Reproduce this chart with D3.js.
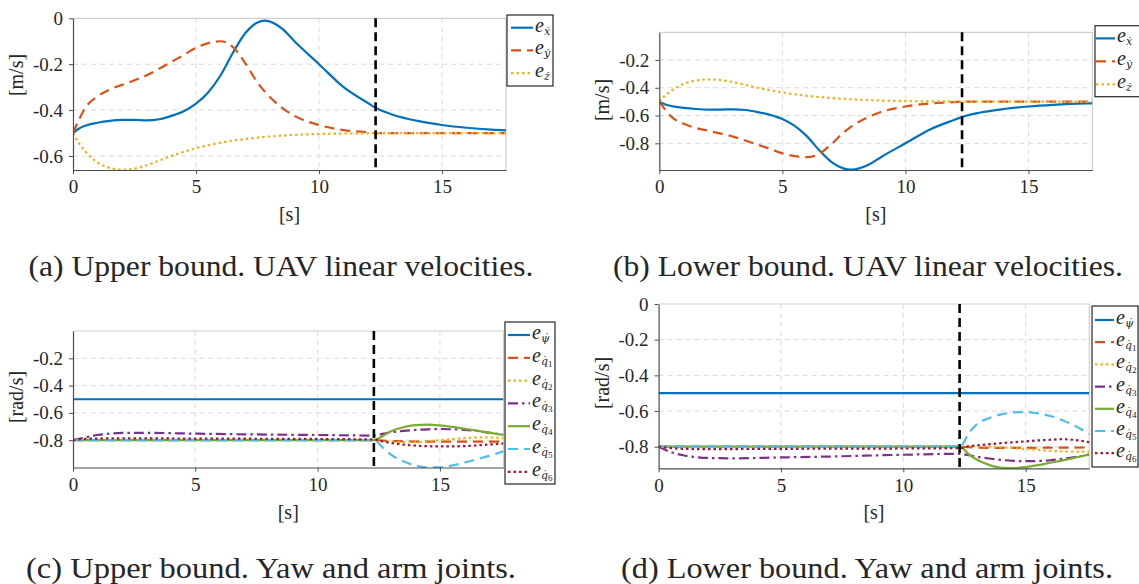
<!DOCTYPE html>
<html>
<head>
<meta charset="utf-8">
<script src="https://cdn.jsdelivr.net/npm/d3@7"></script>
<style>
body { margin: 0; background: #fff; }
text { font-family: "Liberation Serif", "DejaVu Serif", serif; fill: #262626; }
</style>
</head>
<body>
<svg id="canvas" width="1139" height="584"></svg>
<script>
// ---- data ----
var xTicks = [0, 5, 10, 15];
var xMax = 17.6;
var switchTime = 12.3;   // vertical dashed marker

// time samples for top row (UAV linear velocities)
var tTop = [0, 0.25, 0.5, 1, 1.5, 2, 2.5, 3, 3.5, 4, 4.5, 5, 5.5, 6, 6.5, 7, 7.5, 7.8, 8.5, 9, 10, 11, 12, 12.3, 13, 14, 15, 16, 17, 17.6];

// (a) upper bound
var exUp = [-0.5, -0.48, -0.468, -0.455, -0.447, -0.443, -0.443, -0.445, -0.44, -0.425, -0.405, -0.372, -0.322, -0.248, -0.15, -0.065, -0.018, -0.01, -0.045, -0.1, -0.2, -0.3, -0.37, -0.39, -0.42, -0.447, -0.465, -0.477, -0.485, -0.488];
var eyUp = [-0.5, -0.44, -0.39, -0.34, -0.31, -0.29, -0.27, -0.248, -0.22, -0.19, -0.16, -0.128, -0.108, -0.1, -0.125, -0.195, -0.28, -0.32, -0.39, -0.425, -0.465, -0.487, -0.497, -0.5, -0.5, -0.5, -0.5, -0.5, -0.5, -0.5];
var ezUp = [-0.5, -0.545, -0.58, -0.628, -0.652, -0.66, -0.655, -0.64, -0.62, -0.6, -0.582, -0.566, -0.553, -0.542, -0.533, -0.526, -0.52, -0.517, -0.511, -0.508, -0.504, -0.502, -0.501, -0.5, -0.5, -0.5, -0.5, -0.5, -0.5, -0.5];

// (b) lower bound
var exLow = [-0.5, -0.52, -0.532, -0.545, -0.553, -0.557, -0.557, -0.555, -0.56, -0.575, -0.595, -0.625, -0.675, -0.75, -0.85, -0.935, -0.982, -0.99, -0.955, -0.9, -0.8, -0.7, -0.63, -0.61, -0.58, -0.553, -0.535, -0.523, -0.515, -0.512];
var eyLow = [-0.5, -0.56, -0.61, -0.66, -0.69, -0.71, -0.73, -0.752, -0.78, -0.81, -0.84, -0.872, -0.892, -0.9, -0.875, -0.805, -0.72, -0.68, -0.61, -0.575, -0.535, -0.513, -0.503, -0.5, -0.5, -0.5, -0.5, -0.5, -0.5, -0.5];
var ezLow = [-0.5, -0.455, -0.42, -0.372, -0.348, -0.34, -0.345, -0.36, -0.38, -0.4, -0.418, -0.434, -0.447, -0.458, -0.467, -0.474, -0.48, -0.483, -0.489, -0.492, -0.496, -0.498, -0.499, -0.5, -0.5, -0.5, -0.5, -0.5, -0.5, -0.5];

// time samples for bottom row (yaw and arm joints)
var tBot = [0, 0.5, 1, 1.5, 2, 3, 5, 7, 10, 12.3, 12.7, 13, 13.5, 14, 14.5, 15, 15.5, 16, 16.5, 17, 17.6];

// (c) upper bound
var psiUp = [-0.5, -0.5, -0.5, -0.5, -0.5, -0.5, -0.5, -0.5, -0.5, -0.5, -0.5, -0.5, -0.5, -0.5, -0.5, -0.5, -0.5, -0.5, -0.5, -0.5, -0.5];
var q1Up = [-0.8, -0.8, -0.8, -0.8, -0.8, -0.8, -0.8, -0.8, -0.8, -0.8, -0.803, -0.806, -0.808, -0.81, -0.81, -0.81, -0.81, -0.81, -0.81, -0.81, -0.81];
var q2Up = [-0.8, -0.8, -0.8, -0.8, -0.8, -0.8, -0.8, -0.8, -0.8, -0.8, -0.808, -0.812, -0.815, -0.815, -0.808, -0.8, -0.792, -0.785, -0.78, -0.78, -0.785];
var q3Up = [-0.8, -0.78, -0.762, -0.752, -0.747, -0.746, -0.752, -0.757, -0.762, -0.766, -0.752, -0.742, -0.732, -0.725, -0.72, -0.718, -0.72, -0.724, -0.732, -0.745, -0.76];
var q4Up = [-0.8, -0.8, -0.8, -0.8, -0.8, -0.8, -0.8, -0.8, -0.8, -0.8, -0.765, -0.735, -0.705, -0.69, -0.686, -0.692, -0.703, -0.716, -0.73, -0.745, -0.762];
var q5Up = [-0.8, -0.8, -0.8, -0.8, -0.8, -0.8, -0.8, -0.8, -0.8, -0.8, -0.86, -0.905, -0.955, -0.985, -1.0, -0.998, -0.985, -0.965, -0.94, -0.915, -0.882];
var q6Up = [-0.8, -0.79, -0.788, -0.787, -0.787, -0.787, -0.788, -0.789, -0.791, -0.795, -0.81, -0.82, -0.832, -0.84, -0.844, -0.845, -0.845, -0.843, -0.838, -0.832, -0.824];

// (d) lower bound
var psiLow = [-0.5, -0.5, -0.5, -0.5, -0.5, -0.5, -0.5, -0.5, -0.5, -0.5, -0.5, -0.5, -0.5, -0.5, -0.5, -0.5, -0.5, -0.5, -0.5, -0.5, -0.5];
var q1Low = [-0.8, -0.8, -0.8, -0.8, -0.8, -0.8, -0.8, -0.8, -0.8, -0.8, -0.803, -0.805, -0.806, -0.806, -0.806, -0.806, -0.806, -0.805, -0.805, -0.805, -0.804];
var q2Low = [-0.8, -0.8, -0.8, -0.8, -0.8, -0.8, -0.8, -0.8, -0.8, -0.8, -0.797, -0.797, -0.8, -0.803, -0.808, -0.813, -0.818, -0.823, -0.826, -0.828, -0.828];
var q3Low = [-0.8, -0.83, -0.848, -0.858, -0.863, -0.865, -0.86, -0.855, -0.845, -0.84, -0.848, -0.856, -0.866, -0.874, -0.879, -0.881, -0.88, -0.876, -0.868, -0.858, -0.845];
var q4Low = [-0.8, -0.8, -0.8, -0.8, -0.8, -0.8, -0.8, -0.8, -0.8, -0.8, -0.845, -0.872, -0.902, -0.918, -0.92, -0.914, -0.903, -0.89, -0.877, -0.862, -0.843];
var q5Low = [-0.8, -0.8, -0.8, -0.8, -0.8, -0.8, -0.8, -0.8, -0.8, -0.8, -0.72, -0.675, -0.64, -0.619, -0.608, -0.606, -0.613, -0.628, -0.652, -0.683, -0.728];
var q6Low = [-0.8, -0.808, -0.812, -0.813, -0.813, -0.813, -0.812, -0.811, -0.81, -0.808, -0.797, -0.792, -0.786, -0.78, -0.775, -0.77, -0.765, -0.761, -0.758, -0.762, -0.775];

// tick labels and names
var yTicksA = [0, -0.2, -0.4, -0.6];
var yTicksB = [-0.2, -0.4, -0.6, -0.8];
var yTicksC = [-0.2, -0.4, -0.6, -0.8];
var yTicksD = [0, -0.2, -0.4, -0.6, -0.8];
var velNames = [["x\u0307", ""], ["y\u0307", ""], ["z\u0307", ""]];
var jointNames = [["\u03C8\u0307", ""], ["q\u0307", "1"], ["q\u0307", "2"], ["q\u0307", "3"], ["q\u0307", "4"], ["q\u0307", "5"], ["q\u0307", "6"]];
var captions = ["(a) Upper bound. UAV linear velocities.", "(b) Lower bound. UAV linear velocities.",
                "(c) Upper bound. Yaw and arm joints.", "(d) Lower bound. Yaw and arm joints."];

// ---- styles ----
var colors = ["#0072BD", "#D95319", "#EDB120", "#7E2F8E", "#77AC30", "#4DBEEE", "#A2142F"];
var dashes = [null, "10,6", "2.5,3", "10,4,2.5,4", null, "10,6", "2.5,3"];

var svg = d3.select("#canvas");

function drawPanel(p) {
    var x = d3.scaleLinear().domain([0, xMax]).range([p.left, p.right]);
    var y = d3.scaleLinear().domain(p.yDomain).range([p.bottom, p.top]);
    var g = svg.append("g");

    g.append("clipPath").attr("id", "clip" + p.id)
        .append("rect")
        .attr("x", p.left).attr("y", p.top - 1)
        .attr("width", p.right - p.left).attr("height", p.bottom - p.top + 2);

    // grid
    g.selectAll(".gx").data(xTicks.filter(function (d) { return d > 0; }))
        .enter().append("line")
        .attr("x1", function (d) { return x(d); }).attr("x2", function (d) { return x(d); })
        .attr("y1", p.top).attr("y2", p.bottom)
        .attr("stroke", "#dadada").attr("stroke-dasharray", "5,4");
    g.selectAll(".gy").data(p.yTicks.filter(function (d) { return y(d) > p.top + 1; }))
        .enter().append("line")
        .attr("x1", p.left).attr("x2", p.right)
        .attr("y1", function (d) { return y(d); }).attr("y2", function (d) { return y(d); })
        .attr("stroke", "#dadada").attr("stroke-dasharray", "5,4");

    // light box on top and right
    g.append("path")
        .attr("d", "M" + p.left + "," + p.top + "H" + p.right + "V" + p.bottom)
        .attr("fill", "none").attr("stroke", "#cfcfcf").attr("stroke-width", 1.2);

    // series
    var line = d3.line()
        .x(function (d, i) { return x(p.t[i]); })
        .y(function (d) { return y(d); })
        .curve(d3.curveMonotoneX);
    var plot = g.append("g").attr("clip-path", "url(#clip" + p.id + ")");
    p.series.forEach(function (s, i) {
        plot.append("path")
            .attr("d", line(s))
            .attr("fill", "none")
            .attr("stroke", colors[i])
            .attr("stroke-width", 2.2)
            .attr("stroke-dasharray", dashes[i]);
    });

    // switching instant
    g.append("line")
        .attr("x1", x(switchTime)).attr("x2", x(switchTime))
        .attr("y1", p.top).attr("y2", p.bottom)
        .attr("stroke", "#000").attr("stroke-width", 2.6)
        .attr("stroke-dasharray", "9,5");

    // axes
    var xAxis = g.append("g")
        .attr("transform", "translate(0," + p.bottom + ")")
        .call(d3.axisBottom(x).tickValues(xTicks).tickSize(4).tickSizeOuter(0).tickPadding(6));
    var yAxis = g.append("g")
        .attr("transform", "translate(" + p.left + ",0)")
        .call(d3.axisLeft(y).tickValues(p.yTicks).tickSize(4).tickSizeOuter(0).tickPadding(6)
            .tickFormat(function (d) { return d === 0 ? "0" : d.toFixed(1); }));
    [xAxis, yAxis].forEach(function (a) {
        a.attr("font-family", null).attr("font-size", null);
        a.select(".domain").attr("stroke", "#4d4d4d").attr("stroke-width", 1.2);
        a.selectAll(".tick line").attr("stroke", "#4d4d4d");
        a.selectAll(".tick text").attr("font-size", 19).attr("fill", "#262626");
    });

    // axis labels
    g.append("text")
        .attr("x", (p.left + p.right) / 2).attr("y", p.bottom + 51)
        .attr("text-anchor", "middle").attr("font-size", 20)
        .text("[s]");
    g.append("text")
        .attr("transform", "translate(" + (p.left - 50) + "," + p.yLabelY + ") rotate(-90)")
        .attr("text-anchor", "middle").attr("font-size", 20)
        .text(p.yLabel);

    // legend
    var L = p.legend;
    g.append("rect")
        .attr("x", L.x).attr("y", L.y).attr("width", L.w).attr("height", L.h)
        .attr("fill", "#fff").attr("stroke", "#262626").attr("stroke-width", 1.2);
    p.names.forEach(function (n, i) {
        var ry = L.y + L.first + i * L.step;
        g.append("line")
            .attr("x1", L.x + L.x0).attr("x2", L.x + L.x0 + L.len)
            .attr("y1", ry).attr("y2", ry)
            .attr("stroke", colors[i]).attr("stroke-width", 2.2)
            .attr("stroke-dasharray", dashes[i]);
        var t = g.append("text").attr("x", L.x + L.x0 + L.len + 2).attr("y", ry + 4).attr("font-size", 20);
        t.append("tspan").attr("font-style", "italic").text("e");
        t.append("tspan").attr("font-family", "DejaVu Serif").attr("font-style", "italic")
            .attr("font-size", 11).attr("dy", 3).text(n[0]);
        if (n[1]) {
            t.append("tspan").attr("font-size", 9).attr("dy", 2).text(n[1]);
        }
    });

    // caption
    svg.append("text")
        .attr("x", p.capX).attr("y", p.capY)
        .attr("text-anchor", "middle").attr("font-size", 30)
        .attr("textLength", p.capW).attr("lengthAdjust", "spacingAndGlyphs")
        .attr("fill", "#111")
        .text(p.caption);
}

drawPanel({
    id: "a", left: 73, right: 506, top: 18.3, bottom: 170,
    yDomain: [-0.661, 0], yTicks: yTicksA, yLabel: "[m/s]", yLabelY: 75,
    t: tTop, series: [exUp, eyUp, ezUp], names: velNames,
    legend: { x: 507, y: 15, w: 46, h: 71, first: 12.7, step: 22.7, x0: 4, len: 22 },
    caption: captions[0], capX: 281, capY: 276, capW: 505
});
drawPanel({
    id: "b", left: 659.3, right: 1092.5, top: 32.3, bottom: 170,
    yDomain: [-0.992, -0.001], yTicks: yTicksB, yLabel: "[m/s]", yLabelY: 100,
    t: tTop, series: [exLow, eyLow, ezLow], names: velNames,
    legend: { x: 1095, y: 25.7, w: 50, h: 71, first: 12.7, step: 23, x0: 1, len: 19 },
    caption: captions[1], capX: 868, capY: 276, capW: 510
});
drawPanel({
    id: "c", left: 73, right: 503.5, top: 331, bottom: 467.5,
    yDomain: [-1, 0], yTicks: yTicksC, yLabel: "[rad/s]", yLabelY: 397,
    t: tBot, series: [psiUp, q1Up, q2Up, q3Up, q4Up, q5Up, q6Up], names: jointNames,
    legend: { x: 505, y: 322, w: 50, h: 162, first: 13, step: 22.8, x0: 3, len: 22 },
    caption: captions[2], capX: 271, capY: 578, capW: 490
});
drawPanel({
    id: "d", left: 658.6, right: 1089.3, top: 304, bottom: 468.3,
    yDomain: [-0.921, 0], yTicks: yTicksD, yLabel: "[rad/s]", yLabelY: 383,
    t: tBot, series: [psiLow, q1Low, q2Low, q3Low, q4Low, q5Low, q6Low], names: jointNames,
    legend: { x: 1092, y: 306, w: 46, h: 161, first: 14, step: 22.2, x0: 3, len: 19 },
    caption: captions[3], capX: 867, capY: 578, capW: 492
});
</script>
</body>
</html>
